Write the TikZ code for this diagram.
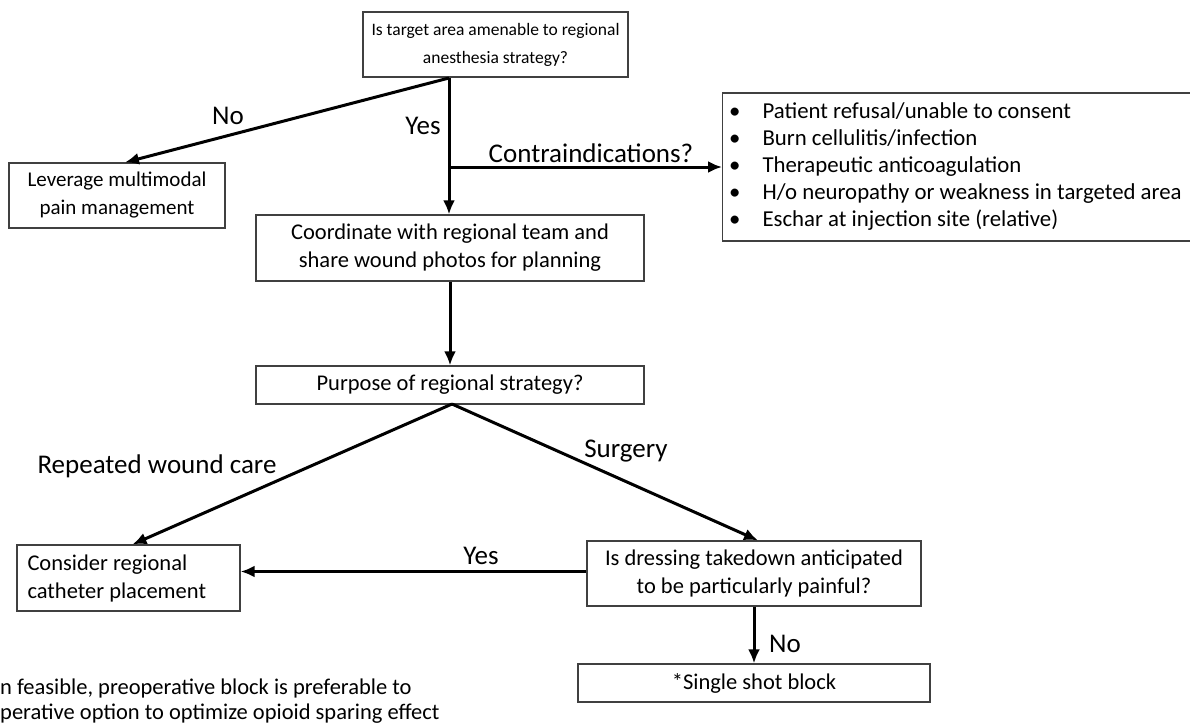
\documentclass[tikz,border=0pt]{standalone}
\usepackage{fontspec}
\setmainfont{Carlito}
\usepackage{tikz}
\usetikzlibrary{arrows.meta}

\tikzset{
	box/.style = {draw=black!75, line width=1.2pt, inner sep=0pt, align=center, font=\fontsize{22.5}{28}\selectfont},
	lbl/.style = {font=\fontsize{27}{30}\selectfont, inner sep=0pt},
	arr/.style = {line width=3pt, -{Latex[length=14pt, width=12pt]}},
	ln/.style = {line width=3pt}
}

\begin{document}
\begin{tikzpicture}[x=1pt, y=-1pt]
		\useasboundingbox (0,0) rectangle (1190,726);
		\node[box, minimum width=265pt, minimum height=65pt, font=\fontsize{17.5}{28}\selectfont] (amen) at (495.5,44.5) {Is target area amenable to regional\\anesthesia strategy?};
		\node[box, minimum width=216pt, minimum height=65pt, font=\fontsize{21}{28}\selectfont] (multi) at (117,195.5) {Leverage multimodal\\pain management};
		\node[box, minimum width=473pt, minimum height=148pt, anchor=west] (contra) at (722,167) {};
		\node[anchor=west, inner sep=0pt, font=\fontsize{22.8}{27}\selectfont] (clist) at (729,167) {%
			\begin{tabular}{@{}l@{\hspace{22pt}}l@{}}
				\textbullet & Patient refusal/unable to consent\\
				\textbullet & Burn cellulitis/infection\\
				\textbullet & Therapeutic anticoagulation\\
				\textbullet & H/o neuropathy or weakness in targeted area\\
				\textbullet & Eschar at injection site (relative)
			\end{tabular}};
		\node[box, minimum width=388pt, minimum height=66pt] (coord) at (450,248) {Coordinate with regional team and\\share wound photos for planning};
		\node[box, minimum width=388pt, minimum height=38pt] (purp) at (450,385) {Purpose of regional strategy?};
		\node[box, minimum width=223pt, minimum height=66pt, align=flush left, text width=202pt] (cath) at (128.5,578) {Consider regional\\catheter placement};
		\node[box, minimum width=334pt, minimum height=65pt] (dress) at (754,573.5) {Is dressing takedown anticipated\\to be particularly painful?};
		\node[box, minimum width=352pt, minimum height=38pt] (single) at (754,683) {*Single shot block};
		\node[anchor=west, inner sep=0pt, align=left, font=\fontsize{22.5}{25}\selectfont] (note) at (0,701.5) {n feasible, preoperative block is preferable to\\perative option to optimize opioid sparing effect};

		\coordinate (top) at (449,78);
		\coordinate (ci) at (449,167);
		\coordinate (mid) at (452,404);
		\draw[ln] (top) -- (ci);
		\draw[arr] (top) -- ([xshift=8pt]multi.north);
		\draw[arr] (ci) -- (coord.north -| ci);
		\draw[arr] (ci) -- (contra.west);
		\draw[arr] (coord.south) -- (purp.north);
		\draw[arr] (mid) -- ([xshift=4pt]cath.north);
		\draw[arr] (mid) -- ([xshift=4pt]dress.north);
		\draw[arr] ([yshift=2pt]dress.west) -- ([yshift=2pt]dress.west -| cath.east);
		\draw[arr] (dress.south) -- (single.north);

		\node[lbl] (no1) at (228,116) {No};
		\node[lbl] (yes1) at (423,126) {Yes};
		\node[lbl] (ci-lbl) at (591,153) {Contraindications?};
		\node[lbl] (rep) at (157,466) {Repeated wound care};
		\node[lbl] (surg) at (626,451) {Surgery};
		\node[lbl] (yes2) at (481,556) {Yes};
		\node[lbl] (no2) at (785,644) {No};
	\end{tikzpicture}
\end{document}
